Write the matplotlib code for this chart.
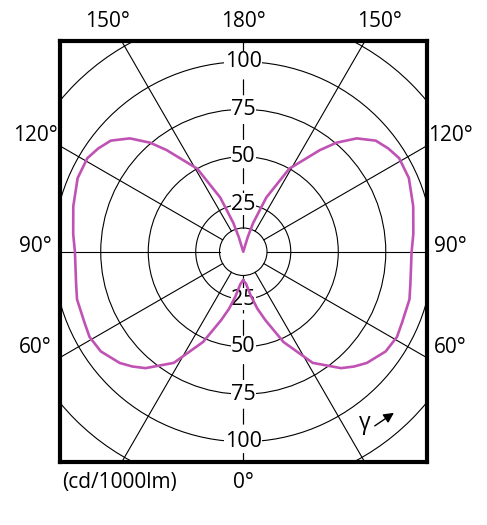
import matplotlib.pyplot as plt
import numpy as np
from matplotlib.patches import Circle

# --- Data: luminous intensity (cd/1000lm) vs gamma angle, right half ---
# (the left half of the diagram is the mirror image)
gamma_deg = [0, 5, 10, 14, 18, 24, 32, 40, 44, 48, 55, 61, 66, 74, 79, 90, 96,
             105, 114, 121, 125.5, 130, 135, 139.5, 143, 151, 157, 161, 163, 180]
intensity = [15, 17, 24, 31, 38, 52, 69, 80, 84, 87.5, 91.5, 92.5, 91.5, 91, 89.6, 88.6, 90,
             92.6, 95.4, 95.7, 93.7, 91, 84.4, 75.5, 67, 50, 31, 16, 8, 0]

ring_values = [25, 50, 75, 100, 125]
ring_labels = ['25', '50', '75', '100']
inner_ring = 12.5
spoke_angles = [0, 30, 60, 90, 120, 150, 180]
side_labels = ['120°', '90°', '60°']
side_angles = [120, 90, 60]
top_labels = ['150°', '180°', '150°']

OUTPUT_IMAGE_FILE = 'out.png'
CURVE_COLOR = '#c052b4'
FS = 15
# -----------------

plt.rcParams['font.family'] = ['Open Sans', 'DejaVu Sans']

fig = plt.figure(figsize=(4.87, 5.25), dpi=100)
ax = fig.add_axes([0.1222, 0.12, 0.7546, 0.801])
XMAX, YMAX = 96.7, 110.7
ax.set_xlim(-XMAX, XMAX)
ax.set_ylim(-YMAX, YMAX)
ax.set_xticks([])
ax.set_yticks([])
for sp in ax.spines.values():
    sp.set_linewidth(3)
    sp.set_color('black')

# rings
for r in ring_values + [inner_ring]:
    ax.add_patch(Circle((0, 0), r, fill=False, color='black', lw=0.8, zorder=1))

# spokes from the inner ring outward (0 deg points down)
for a in spoke_angles:
    t = np.radians(a)
    for side in (1, -1):
        xs = [side * inner_ring * np.sin(t), side * 300 * np.sin(t)]
        ys = [-inner_ring * np.cos(t), -300 * np.cos(t)]
        if a in (0, 180):
            ax.plot(xs, ys, color='black', lw=0.8, dashes=(14, 6), zorder=1)
        else:
            ax.plot(xs, ys, color='black', lw=0.8, zorder=1)

# ring value labels on the vertical axis
for lab, v in zip(ring_labels, ring_values):
    for s in (1, -1):
        ax.text(0, s * v, lab, ha='center', va='center', fontsize=FS + 0.5, zorder=2,
                bbox=dict(facecolor='white', edgecolor='none', pad=0.3))

# intensity curve, right half then mirrored left half
g = np.radians(np.array(gamma_deg))
I = np.array(intensity)
x_r = I * np.sin(g)
y_r = -I * np.cos(g)
x = np.concatenate([x_r, -x_r[::-1]])
y = np.concatenate([y_r, y_r[::-1]])
ax.plot(x, y, color=CURVE_COLOR, lw=1.9, zorder=3, solid_joinstyle='round')

# angle labels around the frame
for lab, a in zip(side_labels, side_angles):
    yy = -XMAX / np.tan(np.radians(a)) + 5.5 if a != 90 else 2.5
    ax.text(-109.3, yy, lab, ha='center', va='center', fontsize=FS, clip_on=False)
    ax.text(108.8, yy, lab, ha='center', va='center', fontsize=FS, clip_on=False)
for lab, xx in zip(top_labels, [-71.5, 0, 71.5]):
    ax.text(xx, 121, lab, ha='center', va='center', fontsize=FS, clip_on=False)
ax.text(0, -121.3, '0°', ha='center', va='center', fontsize=FS, clip_on=False)
ax.text(-65, -121.3, '(cd/1000lm)', ha='center', va='center', fontsize=FS, clip_on=False)

# gamma direction arrow
ax.text(64, -90, 'γ', ha='center', va='center', fontsize=FS + 1.5)
ax.annotate('', xy=(80.5, -84), xytext=(68, -92.5),
            arrowprops=dict(arrowstyle='-|>', color='black', lw=1, mutation_scale=15))

plt.savefig(OUTPUT_IMAGE_FILE)
